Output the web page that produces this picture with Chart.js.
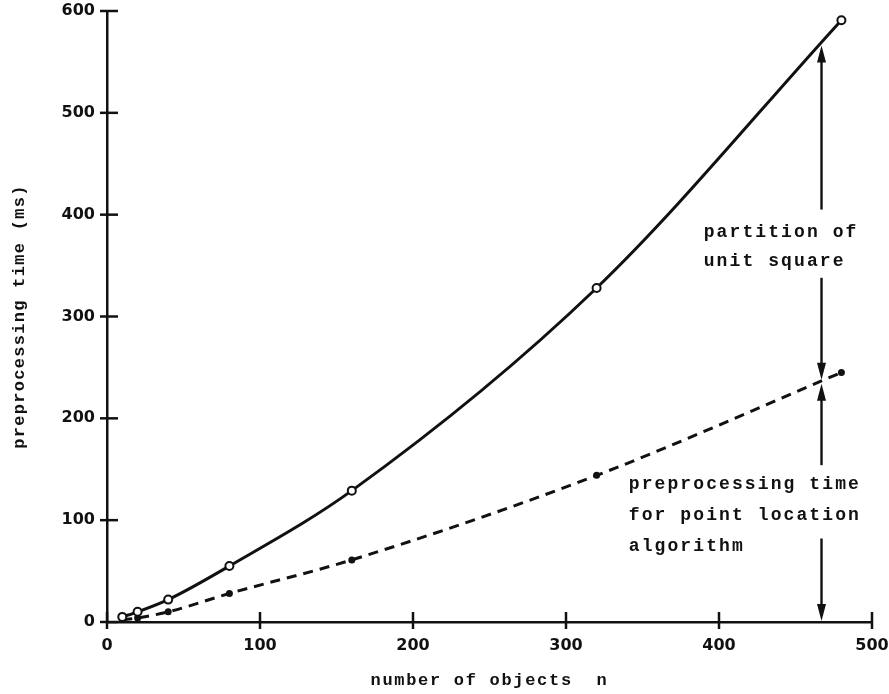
<!DOCTYPE html>
<html>
<head>
<meta charset="utf-8">
<script src="https://cdn.jsdelivr.net/npm/chart.js@4.4.1/dist/chart.umd.min.js"></script>
<style>
  html, body { margin: 0; padding: 0; background: #fff; }
  #wrap { width: 889px; height: 694px; }
</style>
</head>
<body>
<div id="wrap"><canvas id="chart" width="889" height="694"></canvas></div>
<script>
// --- data ---
const nValues = [10, 20, 40, 80, 160, 320, 480];
const partitionTimes = [5, 10, 22, 55, 129, 328, 591];
const pointLocationTimes = [2, 4, 10, 28, 61, 144, 245];
const xTickValues = [0, 100, 200, 300, 400, 500];
const yTickValues = [0, 100, 200, 300, 400, 500, 600];

const INK = '#111';
const MONO = '"Liberation Mono", "DejaVu Sans Mono", monospace';

const toPoints = (xs, ys) => xs.map((n, i) => ({ x: n, y: ys[i] }));

function arrow(ctx, x, y0, y1) {
    // shaft from y0 to y1, head at y1
    const dir = y1 > y0 ? 1 : -1;
    ctx.beginPath();
    ctx.moveTo(x, y0);
    ctx.lineTo(x, y1 - dir * 12);
    ctx.stroke();
    ctx.beginPath();
    ctx.moveTo(x, y1);
    ctx.lineTo(x - 4.5, y1 - dir * 17);
    ctx.lineTo(x + 4.5, y1 - dir * 17);
    ctx.closePath();
    ctx.fill();
}

const annotate = {
    id: 'annotate',
    afterDraw(chart) {
        const { ctx, scales: { x, y } } = chart;
        ctx.save();
        ctx.strokeStyle = INK;
        ctx.fillStyle = INK;
        ctx.lineWidth = 2.5;

        // tick marks crossing the axes
        xTickValues.forEach(v => {
            const px = x.getPixelForValue(v);
            ctx.beginPath();
            ctx.moveTo(px, y.bottom - 10);
            ctx.lineTo(px, y.bottom + 7);
            ctx.stroke();
        });
        yTickValues.forEach(v => {
            const py = y.getPixelForValue(v);
            ctx.beginPath();
            ctx.moveTo(x.left - 7, py);
            ctx.lineTo(x.left + 11, py);
            ctx.stroke();
        });

        // arrows at n = 467
        const ax = x.getPixelForValue(467);
        ctx.lineWidth = 2.4;
        arrow(ctx, ax, y.getPixelForValue(405), y.getPixelForValue(566));
        arrow(ctx, ax, y.getPixelForValue(338), y.getPixelForValue(238));
        arrow(ctx, ax, y.getPixelForValue(154), y.getPixelForValue(234));
        arrow(ctx, ax, y.getPixelForValue(82), y.getPixelForValue(1));

        // labels
        ctx.font = 'bold 18px ' + MONO;
        ctx.letterSpacing = '2.1px';
        ctx.textAlign = 'left';
        ctx.textBaseline = 'middle';
        const px1 = x.getPixelForValue(390);
        ctx.fillText('partition of', px1, y.getPixelForValue(383));
        ctx.fillText('unit square', px1, y.getPixelForValue(354));
        const px2 = x.getPixelForValue(341);
        ctx.fillText('preprocessing time', px2, y.getPixelForValue(135));
        ctx.fillText('for point location', px2, y.getPixelForValue(105));
        ctx.fillText('algorithm', px2, y.getPixelForValue(74));

        // axis titles
        ctx.font = 'bold 17px ' + MONO;
        ctx.letterSpacing = '1.7px';
        ctx.textAlign = 'center';
        ctx.fillText('number of objects  n', (x.left + x.right) / 2, 681);
        ctx.translate(20, (y.top + y.bottom) / 2);
        ctx.rotate(-Math.PI / 2);
        ctx.letterSpacing = '1.3px';
        ctx.fillText('preprocessing time (ms)', 0, 0);
        ctx.restore();
    }
};

new Chart(document.getElementById('chart'), {
    type: 'scatter',
    data: {
        datasets: [
            {
                label: 'partition of unit square',
                data: toPoints(nValues, partitionTimes),
                showLine: true,
                borderColor: INK,
                borderWidth: 3,
                cubicInterpolationMode: 'monotone',
                pointRadius: 4,
                pointBackgroundColor: '#fff',
                pointBorderColor: INK,
                pointBorderWidth: 2
            },
            {
                label: 'point location algorithm',
                data: toPoints(nValues, pointLocationTimes),
                showLine: true,
                borderColor: INK,
                borderWidth: 3,
                borderDash: [10, 7],
                cubicInterpolationMode: 'monotone',
                pointRadius: 3.5,
                pointBackgroundColor: INK,
                pointBorderColor: INK,
                pointBorderWidth: 0
            }
        ]
    },
    options: {
        responsive: false,
        animation: false,
        layout: { padding: { top: 11, right: 17, left: 0, bottom: 0 } },
        plugins: { legend: { display: false }, tooltip: { enabled: false } },
        scales: {
            x: {
                type: 'linear', min: 0, max: 500,
                afterBuildTicks: s => { s.ticks = xTickValues.map(v => ({ value: v })); },
                afterFit: s => { s.height = 72; s.paddingLeft = 0; s.paddingRight = 0; },
                grid: { display: false, drawTicks: false },
                border: { display: true, color: INK, width: 2.5 },
                ticks: { color: INK, padding: 14, maxRotation: 0, font: { family: 'DejaVu Sans', size: 16, weight: 'bold' } }
            },
            y: {
                type: 'linear', min: 0, max: 600,
                afterBuildTicks: s => { s.ticks = yTickValues.map(v => ({ value: v })); },
                afterFit: s => { s.width = 107; s.paddingTop = 0; s.paddingBottom = 0; },
                grid: { display: false, drawTicks: false },
                border: { display: true, color: INK, width: 2.5 },
                ticks: { color: INK, padding: 12, font: { family: 'DejaVu Sans', size: 16, weight: 'bold' } }
            }
        }
    },
    plugins: [annotate]
});
</script>
</body>
</html>
